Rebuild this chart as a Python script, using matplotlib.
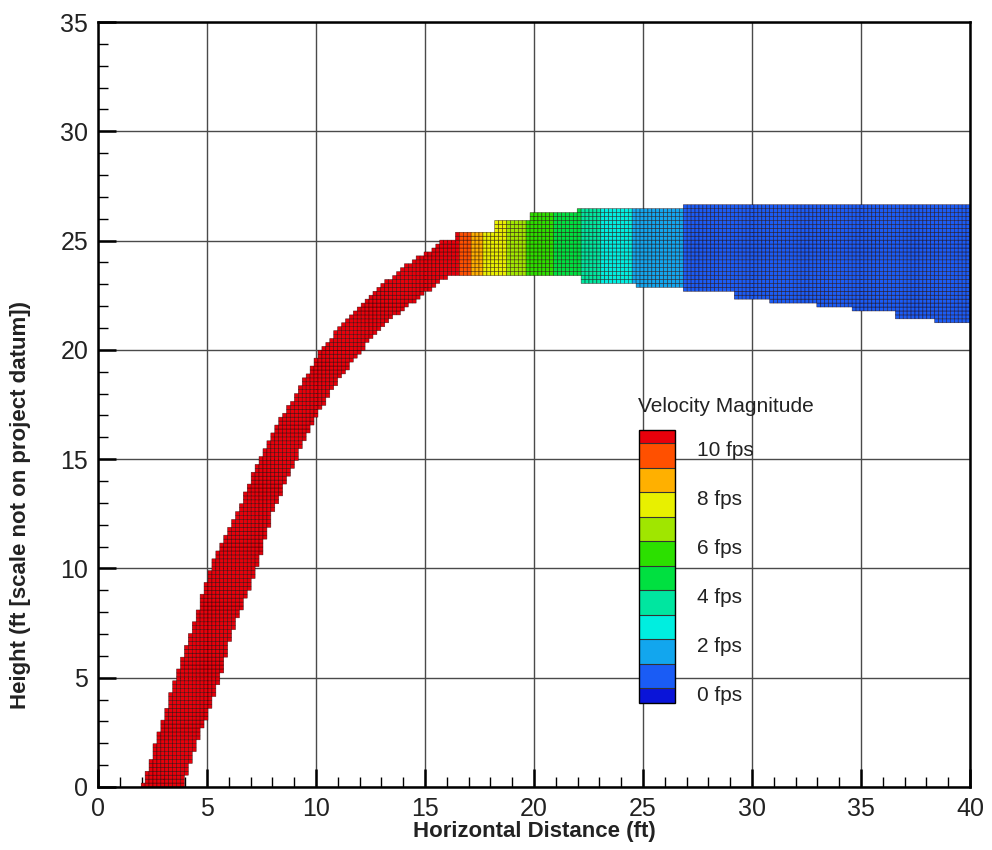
import numpy as np
import matplotlib
matplotlib.use('Agg')
import matplotlib.pyplot as plt
from matplotlib.colors import ListedColormap, BoundaryNorm
from matplotlib.path import Path
from matplotlib.cm import ScalarMappable

plt.rcParams['font.family'] = ['Liberation Sans', 'DejaVu Sans']

# plume outline (ft)
# upper / left edge, from the base up and along the top
top_x = [1.95, 2.07, 2.84, 3.53, 4.3, 5.14, 6.36, 7.3, 8.35, 9.27, 10.2, 11.4, 12.6, 13.85,
         14.9, 15.5, 15.7, 16.4, 16.4, 18.2, 18.2, 19.8, 19.8, 21.9, 21.9, 26.9, 26.9, 40.0]
top_y = [0.0, 0.2, 2.6, 5.0, 7.2, 10.0, 12.5, 14.8, 16.8, 18.3, 20.0, 21.4, 22.6, 23.65,
         24.4, 24.7, 25.0, 25.0, 25.4, 25.4, 25.85, 25.85, 26.2, 26.2, 26.4, 26.4, 26.7, 26.7]
# lower / right edge, from the base out to x = 40
bot_x = [3.9, 4.77, 5.6, 6.2, 7.3, 8.0, 8.9, 9.95, 10.8, 12.1, 13.4, 14.6, 15.5, 16.0,
         22.2, 22.2, 24.6, 24.6, 26.9, 26.9, 29.2, 29.2, 30.9, 30.9, 32.9, 32.9,
         34.6, 34.6, 36.6, 36.6, 38.4, 38.4, 40.0]
bot_y = [0.0, 2.6, 5.0, 7.2, 10.0, 12.5, 14.6, 16.8, 18.3, 20.0, 21.4, 22.3, 22.95, 23.35,
         23.35, 23.1, 23.1, 22.9, 22.9, 22.65, 22.65, 22.4, 22.4, 22.15, 22.15, 21.9,
         21.9, 21.7, 21.7, 21.4, 21.4, 21.15, 21.15]

# velocity bands along the plume (x where the colour changes, speed in fps)
zone_edges = [0.0, 16.6, 17.2, 17.7, 18.7, 19.6, 20.9, 22.1, 23.0, 24.5, 26.9, 40.01]
zone_speed = [10.5, 9.7, 8.7, 7.7, 6.7, 5.7, 4.7, 3.7, 2.7, 1.7, 0.7]

# legend levels
level_bounds = [-0.4, 0.2, 1.2, 2.2, 3.2, 4.2, 5.2, 6.2, 7.2, 8.2, 9.2, 10.2, 10.75]
level_colors = ['#0a14d8', '#1a5cf5', '#12a6ee', '#00eee0', '#00e6a0', '#00e040',
                '#2ce000', '#a0e600', '#e8f000', '#ffb000', '#ff5000', '#e8000b']
legend_ticks = [0, 2, 4, 6, 8, 10]

cmap = ListedColormap(level_colors)
norm = BoundaryNorm(level_bounds, cmap.N)

fig = plt.figure(figsize=(9.92, 8.5), dpi=100)
ax = fig.add_axes([98/992, 1-787/850, 872/992, 765/850])

# cartesian mesh, cells kept only inside the outline
xe = np.linspace(0, 40, 223)
ye = np.linspace(0, 27, 151)
xc = 0.5*(xe[1:] + xe[:-1])
yc = 0.5*(ye[1:] + ye[:-1])
XC, YC = np.meshgrid(xc, yc)
outline = Path(np.column_stack([top_x + bot_x[::-1], top_y + bot_y[::-1]]))
inside = outline.contains_points(np.column_stack([XC.ravel(), YC.ravel()])).reshape(XC.shape)
speed = np.array(zone_speed)[np.clip(np.digitize(XC, zone_edges) - 1, 0, len(zone_speed)-1)]
speed = np.ma.masked_where(~inside, speed)

ax.pcolor(xe, ye, speed, cmap=cmap, norm=norm, edgecolors=(0.1, 0, 0, 0.7), linewidth=0.4)

ax.set_xlim(0, 40)
ax.set_ylim(0, 35)
ax.set_xticks(np.arange(0, 41, 5))
ax.set_yticks(np.arange(0, 36, 5))
ax.set_xticks(np.arange(0, 41, 1), minor=True)
ax.set_yticks(np.arange(0, 36, 1), minor=True)
ax.set_axisbelow(True)
ax.grid(True, which='major', color='#4a4a4a', linewidth=1.0)
ax.tick_params(which='major', direction='in', length=13, width=1.8, labelsize=18,
               labelcolor='#222222', pad=7)
ax.tick_params(which='minor', direction='in', length=7, width=1.0)
for sp in ax.spines.values():
    sp.set_linewidth(1.8)

ax.set_xlabel('Horizontal Distance (ft)', fontsize=16, fontweight='bold', color='#222222')
ax.set_ylabel('Height (ft [scale not on project datum])', fontsize=16, fontweight='bold',
              color='#222222')
ax.xaxis.set_label_coords(0.501, -0.044)
ax.yaxis.set_label_coords(-0.077, 0.369)

# legend inside the plot
cax = fig.add_axes([639/992, 1-703/850, 36/992, 273/850])
cb = fig.colorbar(ScalarMappable(norm=norm, cmap=cmap), cax=cax, boundaries=level_bounds,
                  ticks=legend_ticks, drawedges=True, spacing='proportional')
cb.ax.minorticks_off()
cb.ax.set_yticklabels([f'{v} fps' for v in legend_ticks])
cb.ax.tick_params(length=0, pad=16, labelsize=15, labelcolor='#222222')
cb.outline.set_linewidth(1.0)
cb.dividers.set_color('#333333')
cb.dividers.set_linewidth(0.8)
fig.text(638/992, 1-407/850, 'Velocity Magnitude', fontsize=15, color='#222222',
         ha='left', va='center')

fig.savefig('out.png', dpi=100)
